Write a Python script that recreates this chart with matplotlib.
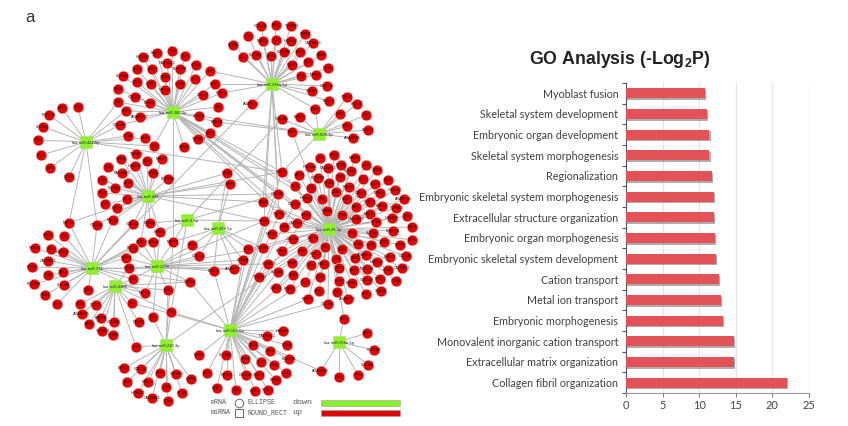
import matplotlib
matplotlib.use("Agg")
import matplotlib.pyplot as plt
import matplotlib.patheffects as pe
from matplotlib.collections import LineCollection

plt.rcParams['mathtext.fontset'] = 'custom'
plt.rcParams['mathtext.bf'] = 'Liberation Sans:bold'

# GO analysis values, bottom bar first
go_terms = ["Collagen fibril organization", "Extracellular matrix organization",
            "Monovalent inorganic cation transport", "Embryonic morphogenesis",
            "Metal ion transport", "Cation transport",
            "Embryonic skeletal system development", "Embryonic organ morphogenesis",
            "Extracellular structure organization", "Embryonic skeletal system morphogenesis",
            "Regionalization", "Skeletal system morphogenesis",
            "Embryonic organ development", "Skeletal system development", "Myoblast fusion"]
go_values = [22.0, 14.8, 14.7, 13.3, 13.0, 12.7, 12.3, 12.1, 12.0, 12.0, 11.8, 11.4, 11.4, 11.0, 10.8]

# network, in image pixels
hub_names = {
    (272, 84): "hsa-miR-196a-5p", (173, 112): "hsa-miR-382-5p", (86, 142): "hsa-miR-424-5p",
    (319, 134): "hsa-miR-508-3p", (148, 196): "hsa-miR-486", (187, 220): "hsa-miR-9-5p",
    (218, 228): "hsa-miR-499-5p", (329, 229): "hsa-miR-29-3p", (92, 268): "hsa-miR-375",
    (157, 266): "hsa-miR-1290", (115, 286): "hsa-miR-4485", (230, 330): "hsa-miR-155-5p",
    (166, 345): "hsa-miR-210-3p", (339, 342): "hsa-miR-196b-5p",
}
targets_a = [(261, 26), (276, 25), (291, 26), (305, 34), (248, 36), (263, 41), (276, 40), (291, 41), (313, 43),
             (233, 45), (321, 55), (300, 52), (284, 52), (256, 55), (271, 56), (243, 57), (308, 62), (292, 65),
             (328, 68), (301, 76), (316, 75), (327, 86), (312, 91), (329, 101), (315, 109), (210, 71), (215, 84),
             (222, 93), (252, 104), (282, 172), (278, 194), (263, 202), (279, 214), (264, 221)]
targets_b = [(172, 51), (157, 53), (185, 56), (143, 57), (167, 63), (196, 65), (137, 69), (152, 69), (180, 69),
             (210, 71), (123, 76), (165, 77), (195, 79), (215, 84), (137, 82), (151, 84), (180, 84), (118, 89),
             (165, 90), (222, 93), (135, 97), (203, 95), (150, 103), (118, 102), (218, 107), (126, 111), (199, 116),
             (140, 117), (217, 122), (120, 125), (210, 133), (198, 139), (184, 147), (154, 146), (173, 242),
             (282, 172), (278, 194), (295, 186), (307, 198), (279, 214), (297, 223), (306, 215), (329, 229)]
targets_c = [(78, 107), (62, 108), (49, 115), (43, 127), (38, 140), (41, 155), (50, 168), (69, 177), (128, 136),
             (145, 138), (118, 102), (126, 111), (120, 125), (154, 146), (282, 172), (69, 223), (97, 225)]
targets_d = [(347, 97), (357, 104), (340, 114), (366, 115), (347, 126), (368, 130), (353, 138), (300, 117),
             (282, 119), (292, 132), (315, 109), (199, 116), (217, 122), (282, 172)]
targets_e = [(136, 154), (121, 159), (147, 161), (162, 159), (108, 167), (135, 166), (122, 173), (153, 173),
             (102, 180), (128, 183), (168, 179), (115, 188), (102, 193), (127, 199), (105, 204), (117, 208),
             (227, 173), (230, 184), (263, 202), (278, 194), (282, 172), (113, 220), (133, 224), (150, 223),
             (160, 232), (141, 242), (97, 225), (69, 223), (264, 221)]
targets_f = [(173, 242), (160, 232), (150, 223), (264, 221), (171, 312), (282, 119), (278, 194)]
targets_g = [(248, 249), (243, 260), (234, 269), (214, 271), (199, 256), (192, 245), (230, 184), (227, 173),
             (173, 242), (263, 248)]
targets_dense = [(334, 155), (320, 158), (355, 158), (366, 165), (310, 167), (328, 168), (341, 165), (377, 170),
                 (282, 172), (299, 175), (318, 178), (351, 171), (340, 177), (363, 179), (388, 180), (375, 184),
                 (329, 183), (295, 186), (311, 188), (349, 187), (395, 190), (361, 193), (380, 193), (278, 194),
                 (307, 198), (336, 192), (322, 199), (347, 199), (370, 202), (404, 199), (382, 206), (295, 204),
                 (356, 207), (396, 208), (263, 202), (327, 211), (407, 216), (370, 214), (342, 215), (306, 215),
                 (279, 214), (392, 218), (356, 219), (297, 223), (264, 221), (376, 222), (284, 227), (412, 227),
                 (393, 231), (373, 233), (352, 233), (412, 240), (384, 242), (400, 245), (358, 244), (371, 245),
                 (272, 234), (293, 239), (313, 238), (263, 248), (282, 251), (302, 251), (325, 247), (342, 249),
                 (316, 254), (366, 255), (390, 257), (406, 256), (355, 258), (268, 264), (292, 263), (311, 265),
                 (324, 264), (336, 259), (377, 262), (402, 268), (388, 270), (339, 268), (354, 270), (367, 269),
                 (278, 272), (293, 275), (305, 282), (320, 277), (380, 279), (396, 281), (339, 281), (352, 283),
                 (367, 280), (276, 288), (290, 289), (319, 291), (337, 292), (366, 294), (381, 291), (348, 299),
                 (308, 299), (328, 304), (344, 319), (292, 132), (259, 277), (248, 249)]
targets_h = [(48, 235), (64, 236), (35, 248), (51, 249), (63, 252), (48, 261), (32, 267), (48, 275), (63, 272),
             (34, 284), (64, 285), (45, 295), (57, 304), (133, 224), (113, 220), (97, 225), (69, 223), (88, 290),
             (126, 258), (129, 268), (133, 279), (145, 293), (141, 242), (153, 242), (190, 282), (133, 248),
             (252, 104), (234, 269)]
targets_i = [(141, 242), (153, 242), (173, 242), (133, 248), (126, 258), (129, 268), (133, 279), (160, 232),
             (192, 245), (199, 256), (145, 293), (168, 290), (190, 282), (214, 271), (153, 317), (264, 221),
             (268, 264), (263, 248), (243, 260), (234, 269)]
targets_j = [(80, 304), (96, 305), (82, 314), (101, 318), (114, 322), (89, 324), (102, 331), (113, 335), (132, 303),
             (139, 322), (136, 347), (133, 279), (145, 293), (190, 282), (168, 290), (171, 312), (129, 268)]
targets_k = [(283, 331), (267, 336), (287, 345), (253, 345), (270, 351), (289, 359), (226, 355), (245, 359),
             (261, 362), (274, 365), (199, 355), (286, 373), (207, 373), (227, 375), (246, 375), (259, 375),
             (276, 380), (217, 388), (236, 390), (255, 391), (268, 390), (321, 371), (308, 299), (328, 304),
             (282, 172), (278, 194), (264, 221), (248, 249), (243, 260), (259, 277), (279, 214), (295, 204),
             (306, 215), (268, 264), (278, 272), (293, 275), (305, 282), (171, 312), (132, 303), (214, 271), (190, 282)]
targets_l = [(124, 368), (141, 369), (160, 373), (176, 374), (191, 379), (127, 382), (148, 382), (166, 387),
             (138, 393), (152, 398), (182, 393), (168, 401), (171, 312), (136, 347), (153, 317), (173, 242),
             (302, 251), (168, 290)]
targets_m = [(367, 333), (374, 350), (368, 365), (358, 375), (339, 377), (321, 371), (344, 319)]

edge_lists = {
    (272, 84): targets_a, (173, 112): targets_b, (86, 142): targets_c, (319, 134): targets_d,
    (148, 196): targets_e, (187, 220): targets_f, (218, 228): targets_g, (329, 229): targets_dense,
    (92, 268): targets_h, (157, 266): targets_i, (115, 286): targets_j, (230, 330): targets_k,
    (166, 345): targets_l, (339, 342): targets_m,
}
# node captions are too small to read in the picture, these only stand in for them
gene_names = ["COL1A1", "FBN1", "TGFBR3", "SPARC", "LOX", "MEF2C", "ELN", "HOXA10", "CACNA1C", "KCNJ8", "SOX6",
              "AKT3", "PDGFRA", "SLC8A1", "TPM2", "GLI3", "DCN", "FOXP1", "ITGA8", "NFIB", "MYH11", "COL5A2",
              "CDH11", "PRKG1", "ZEB1", "TNC", "EGR1", "SCN7A", "ADAMTS5", "BMP2K"]

fig = plt.figure(figsize=(8.48, 4.26), dpi=100, facecolor="white")

# left panel, axes spanning the image so the data units are pixels
net = fig.add_axes([0, 0, 1, 1])
net.set_xlim(0, 848)
net.set_ylim(426, 0)
net.axis("off")

segments = []
nodes = []
for hub, targets in edge_lists.items():
    for t in targets:
        segments.append([hub, t])
        if t not in nodes and t not in hub_names:
            nodes.append(t)
net.add_collection(LineCollection(segments, colors="#b4b4b4", linewidths=0.7, zorder=1))
net.scatter([n[0] for n in nodes], [n[1] for n in nodes], s=60, c="#e00000",
            edgecolors="#d4d4d4", linewidths=0.5, zorder=2)
net.scatter([h[0] for h in hub_names], [h[1] for h in hub_names], s=66, marker="s", c="#90f030",
            edgecolors="#a8e070", linewidths=0.4, zorder=3)
for i, n in enumerate(nodes):
    net.text(n[0], n[1], gene_names[i % len(gene_names)], fontsize=2.5, color="#300808",
             ha="center", va="center", zorder=4)
for h, name in hub_names.items():
    net.text(h[0], h[1] + 1, name, fontsize=2.6, color="#202020", ha="center", va="center", zorder=5)

net.text(25, 17, "a", fontsize=12, family="Liberation Sans", color="#333333", ha="left", va="center")

# legend of the network
mono = dict(family="Liberation Mono", color="#555555", va="center", ha="left")
net.text(211, 403, "mRNA", fontsize=4.8, **mono)
net.text(211, 413, "miRNA", fontsize=4.8, **mono)
net.text(247, 403, "ELLIPSE", fontsize=4.8, **mono)
net.text(247, 413, "ROUND_RECT", fontsize=4.8, **mono)
net.text(292, 402, "down", fontsize=6, **mono)
net.text(292, 413, "up", fontsize=6, **mono)
net.scatter([239], [403], s=38, facecolors="white", edgecolors="#666666", linewidths=0.7, zorder=2)
net.scatter([239], [413], s=38, marker="s", facecolors="white", edgecolors="#666666", linewidths=0.7, zorder=2)
net.fill_between([321, 400], 400, 405.5, color="#88f028", edgecolor="#a0a0a0", linewidth=0.4)
net.fill_between([321, 400], 410, 416, color="#d80808", edgecolor="#a0a0a0", linewidth=0.4)

net.text(620, 60, r"GO Analysis (-Log$\mathbf{_2}$P)", fontsize=12.8, family="Liberation Sans",
         fontweight="bold", color="#222222", ha="center", va="center")

# right panel
ax = fig.add_axes([626 / 848, 1 - 393 / 426, 183 / 848, 310 / 426])
positions = range(len(go_terms))
bars = ax.barh(positions, go_values, height=0.47, color="#e25257", zorder=3)
for b in bars:
    b.set_path_effects([pe.SimplePatchShadow(offset=(0.8, -1.2), shadow_rgbFace="#8a8a8a", alpha=0.7),
                        pe.Normal()])
ax.set_xlim(0, 25)
ax.set_ylim(-0.5, 14.5)
ax.set_yticks(list(positions))
ax.set_yticklabels(go_terms, family="Lato", fontsize=7.75, color="#404040")
ax.set_yticks([p - 0.5 for p in range(16)], minor=True)
ax.tick_params(axis="y", which="major", length=0, pad=5.5)
ax.tick_params(axis="y", which="minor", length=3, width=0.8, color="#555555")
ax.set_xticks([0, 5, 10, 15, 20, 25])
ax.tick_params(axis="x", length=3, width=0.7, color="#777777", labelsize=7.9, labelcolor="#404040", pad=2)
for lab in ax.get_xticklabels():
    lab.set_family("Lato")
ax.grid(axis="x", color="#e4e4e4", linewidth=0.9, zorder=0)
ax.set_axisbelow(True)
ax.spines["top"].set_visible(False)
ax.spines["right"].set_visible(False)
ax.spines["left"].set_color("#555555")
ax.spines["bottom"].set_color("#999999")
ax.patch.set_alpha(0)

fig.savefig("out.png", dpi=100)
